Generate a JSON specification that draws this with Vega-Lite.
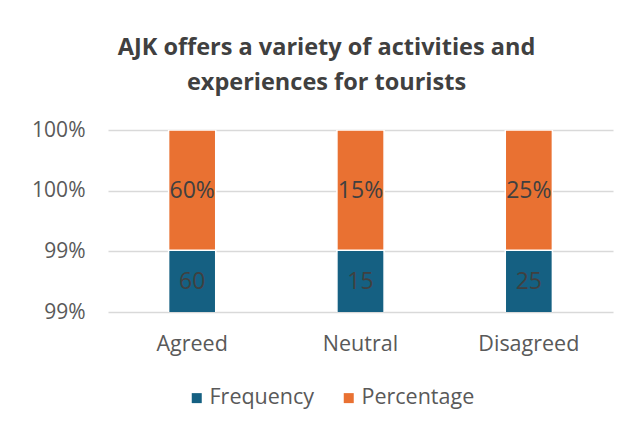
{
  "$schema": "https://vega.github.io/schema/vega-lite/v6.json",
  "autosize": "none",
  "width": 505,
  "height": 182,
  "padding": {"left": 108, "top": 130, "right": 18, "bottom": 118},
  "background": "white",
  "config": {
    "view": {"stroke": null},
    "font": "Open Sans"
  },
  "title": {
    "text": ["AJK offers a variety of activities and", "experiences for tourists"],
    "fontSize": 23.5,
    "fontWeight": "bold",
    "color": "#404040",
    "anchor": "middle",
    "dx": -34,
    "offset": 25,
    "lineHeight": 35
  },
  "data": {
    "values": [
      {"category": "Agreed", "series": "Frequency", "value": 60, "label": "60"},
      {"category": "Agreed", "series": "Percentage", "value": 0.6, "label": "60%"},
      {"category": "Neutral", "series": "Frequency", "value": 15, "label": "15"},
      {"category": "Neutral", "series": "Percentage", "value": 0.15, "label": "15%"},
      {"category": "Disagreed", "series": "Frequency", "value": 25, "label": "25"},
      {"category": "Disagreed", "series": "Percentage", "value": 0.25, "label": "25%"}
    ]
  },
  "encoding": {
    "x": {
      "field": "category",
      "type": "nominal",
      "sort": ["Agreed", "Neutral", "Disagreed"],
      "scale": {"paddingInner": 0.72, "paddingOuter": 0.36},
      "axis": {
        "title": null,
        "labelAngle": 0,
        "labelFontSize": 21.5,
        "labelColor": "#595959",
        "labelPadding": 21,
        "ticks": false,
        "domain": false
      }
    }
  },
  "layer": [
    {
      "mark": {"type": "bar", "clip": true, "stroke": "white", "strokeWidth": 1.5},
      "encoding": {
        "y": {
          "field": "value",
          "type": "quantitative",
          "stack": "normalize",
          "scale": {"domain": [0.985, 1], "nice": false, "zero": false},
          "axis": {
            "title": null,
            "values": [0.985, 0.99, 0.995, 1],
            "labelExpr": "datum.value < 0.9925 ? '99%' : '100%'",
            "labelFontSize": 21,
            "labelColor": "#595959",
            "labelPadding": 23,
            "ticks": false,
            "domain": false,
            "gridColor": "#d9d9d9",
            "gridWidth": 1.5
          }
        },
        "color": {
          "field": "series",
          "type": "nominal",
          "scale": {"domain": ["Frequency", "Percentage"], "range": ["#156082", "#E97132"]},
          "legend": {
            "title": null,
            "orient": "none",
            "direction": "horizontal",
            "legendX": 78,
            "legendY": 257,
            "symbolType": "square",
            "symbolSize": 100,
            "symbolStrokeWidth": 0,
            "labelFontSize": 21.5,
            "labelColor": "#595959",
            "columnPadding": 23,
            "labelOffset": 2
          }
        },
        "order": {"field": "series", "sort": "ascending"}
      }
    },
    {
      "transform": [{"filter": "datum.series === 'Frequency'"}],
      "mark": {"type": "text", "fontSize": 23, "color": "#404040", "baseline": "middle"},
      "encoding": {
        "y": {"datum": 0.9875, "type": "quantitative"},
        "text": {"field": "label", "type": "nominal"}
      }
    },
    {
      "transform": [{"filter": "datum.series === 'Percentage'"}],
      "mark": {"type": "text", "fontSize": 23, "color": "#404040", "baseline": "middle"},
      "encoding": {
        "y": {"datum": 0.995, "type": "quantitative"},
        "text": {"field": "label", "type": "nominal"}
      }
    }
  ]
}
